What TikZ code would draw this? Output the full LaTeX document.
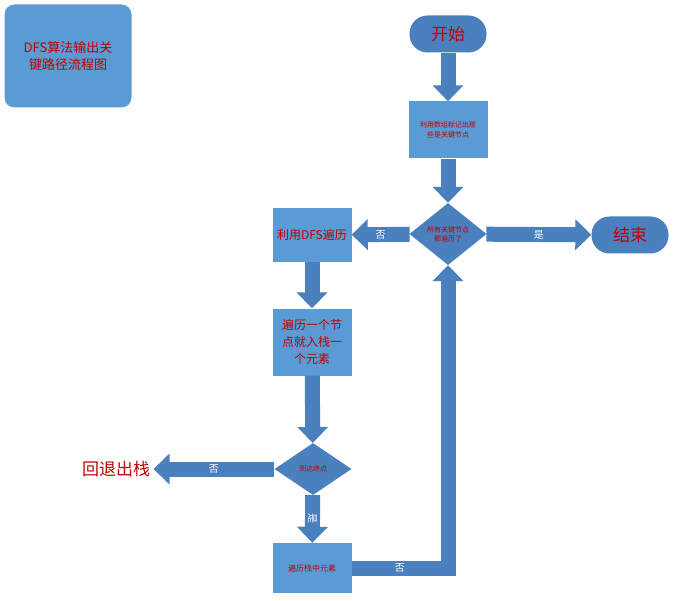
\documentclass[tikz,border=0pt]{standalone}
\usepackage{fontspec}
\setmainfont{Noto Sans CJK SC}
\usetikzlibrary{shapes.geometric, arrows.meta}
\definecolor{boxblue}{HTML}{5B9BD5}
\definecolor{arrowblue}{HTML}{4A80BE}
\definecolor{textred}{HTML}{C00000}

\begin{document}
\begin{tikzpicture}[
    x = 1pt, y = -1pt,
    title/.style={fill=boxblue, rectangle, rounded corners=10pt, minimum width=127pt, minimum height=103pt, align=center, text=textred, font=\fontsize{13}{17}\selectfont},
    terminal/.style={fill=arrowblue, rectangle, rounded corners=18pt, minimum width=77pt, minimum height=37pt, text=textred, font=\fontsize{17}{20}\selectfont},
    process/.style={fill=boxblue, rectangle, minimum width=79pt, align=center, text=textred, inner sep=2pt},
    decision/.style={fill=arrowblue, diamond, aspect=1.2, inner sep=0pt, align=center, text=textred, font=\fontsize{7}{9}\selectfont},
    arrow/.style={draw=arrowblue, line width=15pt, -{Triangle[width=30pt, length=16pt]}},
    label/.style={text=white, font=\fontsize{10}{12}\selectfont}
]
    \useasboundingbox (0, 0) rectangle (676, 601);

    % Title
    \node (title) at (68, 56) [title] {DFS算法输出关\\键路径流程图};

    % Start
    \node (start) at (448, 34) [terminal] {开始};

    % Mark key nodes
    \node (mark) at (448, 130) [process, minimum height=57pt, font=\fontsize{7}{10}\selectfont] {利用数组标记出那\\些是关键节点};

    % All key nodes visited?
    \node (check) at (448, 234) [decision, minimum width=77pt, minimum height=62pt] {所有关键节点\\都遍历了};

    % End
    \node (finish) at (630, 235) [terminal] {结束};

    % DFS
    \node (dfs) at (312, 235) [process, minimum height=54pt, font=\fontsize{12}{14}\selectfont] {利用DFS遍历};

    % Push
    \node (push) at (312, 342) [process, minimum height=67pt, font=\fontsize{12}{17}\selectfont] {遍历一个节\\点就入栈一\\个元素};

    % Reached end?
    \node (reach) at (313, 469) [decision, minimum width=77pt, minimum height=52pt] {到达终点};

    % Pop
    \node (pop) at (116, 469) [text=textred, font=\fontsize{17}{20}\selectfont] {回退出栈};

    % Traverse stack
    \node (trav) at (312, 568) [process, minimum height=50pt, font=\fontsize{8}{10}\selectfont] {遍历栈中元素};

    % Arrows
    \draw[arrow] (start) -- (mark);
    \draw[arrow] (mark) -- (check);
    \draw[arrow] (check) -- node[label] {是} (finish);
    \draw[arrow] (check) -- node[label] {否} (dfs);
    \draw[arrow] (dfs) -- (push);
    \draw[arrow] (push) -- (reach);
    \draw[arrow] (reach) -- node[label] {否} (pop);
    \draw[arrow] (reach) -- node[label, rotate=-90] {是} (trav);
    \draw[arrow] (trav.east) -| node[label, pos=0.25] {否} (check.south);
\end{tikzpicture}
\end{document}
